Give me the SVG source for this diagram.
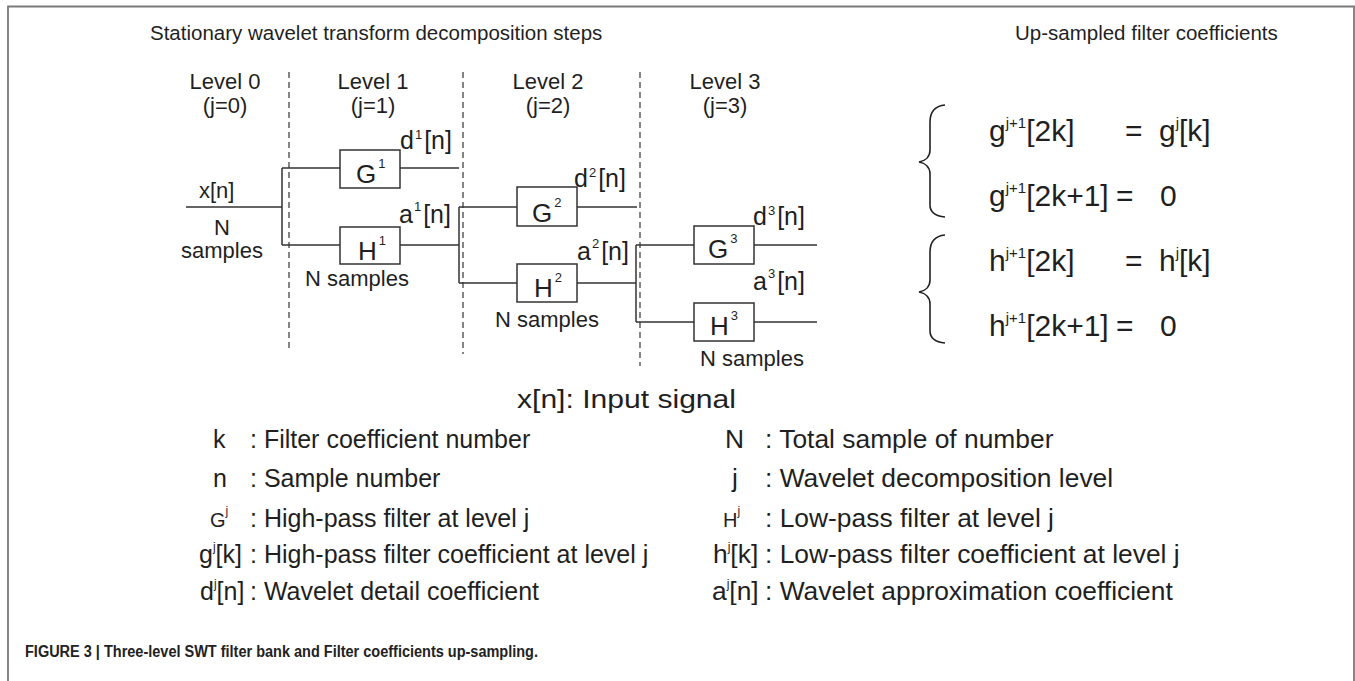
<svg xmlns="http://www.w3.org/2000/svg" width="1355" height="681" viewBox="0 0 1355 681">
  <style>
    text { font-family: "Liberation Sans", Arial, sans-serif; fill: #1f1f1f; }
    .title { font-size: 20.5px; }
    .lvl { font-size: 22px; text-anchor: middle; }
    .lab { font-size: 25px; }
    .sup { font-size: 13px; }
    .box { font-size: 26px; }
    .bsup { font-size: 13px; }
    .smp { font-size: 22px; text-anchor: middle; }
    .eq { font-size: 30px; }
    .esup { font-size: 15px; }
    .leg { font-size: 25px; }
    .legr { font-size: 26.4px; }
    .lsym { font-size: 20px; }
    .lsup { font-size: 12px; }
    .cap { font-family: "Liberation Sans Narrow", "Liberation Sans", Arial, sans-serif; font-size: 16px; font-weight: bold; fill: #222; }
    .wire { stroke: #333; stroke-width: 1.5; fill: none; }
    .dash { stroke: #444; stroke-width: 1.3; stroke-dasharray: 6 4; fill: none; }
    .filt { stroke: #333; stroke-width: 1.5; fill: #fff; }
    .brace { stroke: #222; stroke-width: 1.6; fill: none; }
  </style>

  <!-- figure frame -->
  <path d="M8,690 V6.5 H1354 V690" fill="none" stroke="#7a7a7a" stroke-width="1.8"/>

  <!-- headings -->
  <text class="title" x="150" y="40">Stationary wavelet transform decomposition steps</text>
  <text class="title" x="1015" y="40">Up-sampled filter coefficients</text>

  <!-- level separators and labels -->
  <g id="levels">
    <line class="dash" x1="289" y1="72" x2="289" y2="352"/>
    <line class="dash" x1="463" y1="72" x2="463" y2="354"/>
    <line class="dash" x1="640" y1="72" x2="640" y2="366"/>
    <text class="lvl" x="225" y="89">Level 0</text>
    <text class="lvl" x="225" y="113">(j=0)</text>
    <text class="lvl" x="373" y="89">Level 1</text>
    <text class="lvl" x="373" y="113">(j=1)</text>
    <text class="lvl" x="548" y="89">Level 2</text>
    <text class="lvl" x="548" y="113">(j=2)</text>
    <text class="lvl" x="725" y="89">Level 3</text>
    <text class="lvl" x="725" y="113">(j=3)</text>
  </g>

  <!-- signal wiring -->
  <g id="connectors">
    <path class="wire" d="M186,207 H282 M282,168 V245 M282,168 H340 M282,245 H340"/>
    <path class="wire" d="M400,168 H459 M400,245 H459 M459,207 V283 M459,207 H517 M459,283 H517"/>
    <path class="wire" d="M577,207 H637 M577,283 H636 M636,245 V322 M636,245 H694 M636,322 H694"/>
    <path class="wire" d="M754,245 H817 M754,322 H817"/>
  </g>

  <!-- input -->
  <g id="input">
    <text class="lab" x="199" y="198" style="font-size:22px">x[n]</text>
    <text class="smp" x="222" y="235">N</text>
    <text class="smp" x="222" y="258">samples</text>
  </g>

  <!-- level 1 filters -->
  <g id="G1">
    <rect class="filt" x="340" y="150" width="60" height="38"/>
    <text class="box" x="356" y="183">G<tspan class="bsup" dx="2" dy="-15">1</tspan></text>
  </g>
  <g id="H1">
    <rect class="filt" x="340" y="227" width="60" height="37"/>
    <text class="box" x="358" y="260">H<tspan class="bsup" dx="2" dy="-15">1</tspan></text>
    <text class="smp" x="357" y="286">N samples</text>
  </g>
  <text class="lab" x="400" y="149">d<tspan class="sup" dx="1" dy="-10">1</tspan><tspan dx="2" dy="10">[n]</tspan></text>
  <text class="lab" x="399" y="223">a<tspan class="sup" dx="1" dy="-12">1</tspan><tspan dx="2" dy="12">[n]</tspan></text>

  <!-- level 2 filters -->
  <g id="G2">
    <rect class="filt" x="517" y="187" width="60" height="39"/>
    <text class="box" x="532" y="222">G<tspan class="bsup" dx="2" dy="-15">2</tspan></text>
  </g>
  <g id="H2">
    <rect class="filt" x="517" y="264" width="60" height="38"/>
    <text class="box" x="534" y="297">H<tspan class="bsup" dx="2" dy="-15">2</tspan></text>
    <text class="smp" x="547" y="327">N samples</text>
  </g>
  <text class="lab" x="574" y="187">d<tspan class="sup" dx="1" dy="-10">2</tspan><tspan dx="2" dy="10">[n]</tspan></text>
  <text class="lab" x="577" y="260">a<tspan class="sup" dx="1" dy="-12">2</tspan><tspan dx="2" dy="12">[n]</tspan></text>

  <!-- level 3 filters -->
  <g id="G3">
    <rect class="filt" x="694" y="226" width="60" height="38"/>
    <text class="box" x="708" y="258">G<tspan class="bsup" dx="2" dy="-15">3</tspan></text>
  </g>
  <g id="H3">
    <rect class="filt" x="694" y="303" width="60" height="38"/>
    <text class="box" x="710" y="335">H<tspan class="bsup" dx="2" dy="-15">3</tspan></text>
    <text class="smp" x="752" y="366">N samples</text>
  </g>
  <text class="lab" x="753" y="225">d<tspan class="sup" dx="1" dy="-10">3</tspan><tspan dx="2" dy="10">[n]</tspan></text>
  <text class="lab" x="753" y="290">a<tspan class="sup" dx="1" dy="-12">3</tspan><tspan dx="2" dy="12">[n]</tspan></text>

  <!-- up-sampling equations -->
  <g id="equations">
    <path class="brace" d="M945,105 C935,106 930,112 930,122 L930,150 C930,157 925,161 919,162 C925,163 930,167 930,174 L930,205 C930,212 935,216 945,217"/>
    <path class="brace" d="M945,235 C935,236 930,242 930,252 L930,280 C930,287 925,291 919,292 C925,293 930,297 930,304 L930,331 C930,338 935,342 945,343"/>
    <text class="eq" x="989" y="141">g<tspan class="esup" dy="-13">j+1</tspan><tspan dy="13">[2k]</tspan><tspan x="1125">=</tspan><tspan x="1159">g</tspan><tspan class="esup" dy="-13">j</tspan><tspan dy="13">[k]</tspan></text>
    <text class="eq" x="989" y="206">g<tspan class="esup" dy="-13">j+1</tspan><tspan dy="13">[2k+1]</tspan><tspan x="1116">=</tspan><tspan x="1160">0</tspan></text>
    <text class="eq" x="989" y="271">h<tspan class="esup" dy="-13">j+1</tspan><tspan dy="13">[2k]</tspan><tspan x="1125">=</tspan><tspan x="1159">h</tspan><tspan class="esup" dy="-13">j</tspan><tspan dy="13">[k]</tspan></text>
    <text class="eq" x="989" y="336">h<tspan class="esup" dy="-13">j+1</tspan><tspan dy="13">[2k+1]</tspan><tspan x="1116">=</tspan><tspan x="1160">0</tspan></text>
  </g>

  <!-- symbol legend -->
  <g id="legend">
    <text class="leg" x="517" y="408" textLength="219" lengthAdjust="spacingAndGlyphs">x[n]: Input signal</text>

    <text class="leg" x="213" y="448">k</text>
    <text class="leg" x="250" y="448">: Filter coefficient number</text>
    <text class="leg" x="213" y="487">n</text>
    <text class="leg" x="250" y="487">: Sample number</text>
    <text class="lsym" x="210" y="527">G<tspan class="lsup" dy="-12">j</tspan></text>
    <text class="leg" x="250" y="527">: High-pass filter at level j</text>
    <text class="leg" x="199" y="563">g<tspan class="lsup" dy="-12">j</tspan><tspan dy="12">[k]</tspan></text>
    <text class="leg" x="250" y="563">: High-pass filter coefficient at level j</text>
    <text class="leg" x="200" y="600">d<tspan class="lsup" dy="-12">j</tspan><tspan dy="12">[n]</tspan></text>
    <text class="leg" x="250" y="600">: Wavelet detail coefficient</text>

    <text class="legr" x="725" y="448">N</text>
    <text class="legr" x="765" y="448">: Total sample of number</text>
    <text class="legr" x="732" y="487">j</text>
    <text class="legr" x="765" y="487">: Wavelet decomposition level</text>
    <text class="lsym" x="723" y="527">H<tspan class="lsup" dy="-12">j</tspan></text>
    <text class="legr" x="765" y="527">: Low-pass filter at level j</text>
    <text class="legr" x="713" y="563">h<tspan class="lsup" dy="-12">j</tspan><tspan dy="12">[k]</tspan></text>
    <text class="legr" x="765" y="563">: Low-pass filter coefficient at level j</text>
    <text class="legr" x="712" y="600">a<tspan class="lsup" dy="-12">j</tspan><tspan dy="12">[n]</tspan></text>
    <text class="legr" x="765" y="600">: Wavelet approximation coefficient</text>
  </g>

  <!-- caption -->
  <text class="cap" x="25" y="657" textLength="513" lengthAdjust="spacingAndGlyphs">FIGURE 3 | Three-level SWT filter bank and Filter coefficients up-sampling.</text>
</svg>
